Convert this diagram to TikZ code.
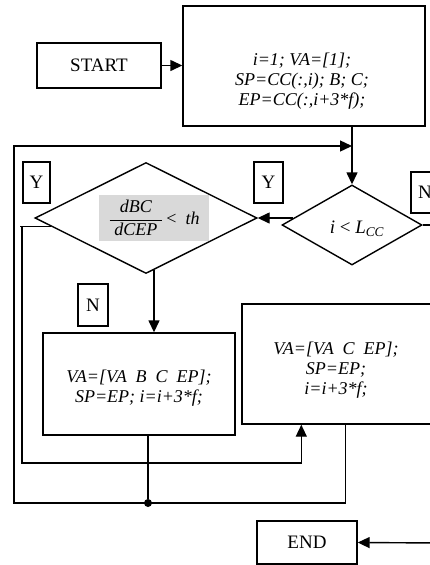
\documentclass[tikz,border=0pt]{standalone}
\usepackage{fontspec}
\setmainfont{Liberation Serif}
\usetikzlibrary{arrows.meta,calc,shapes.geometric}
\begin{document}
\begin{tikzpicture}[x=1pt,y=-1pt,
  lw/.style={line width=1.4pt},
  txt/.style={inner sep=0pt,align=center,font=\fontsize{19}{20}\selectfont},
  ittxt/.style={inner sep=0pt,align=center,font=\fontsize{18}{20}\selectfont\itshape},
  box/.style={draw,lw,rectangle,inner sep=0pt,align=center,font=\fontsize{19}{20}\selectfont},
  dia/.style={draw,lw,diamond,inner sep=0pt},
  lab/.style={draw,lw,rectangle,inner sep=0pt,minimum width=28pt,minimum height=41pt,font=\fontsize{19}{20}\selectfont},
  arr/.style={lw,-{Triangle[length=12pt,width=11pt]}},
  wire/.style={lw}
]
\useasboundingbox (0,0) rectangle (430,565);
\clip (0,0) rectangle (430,565);

% boxes
\node[box, minimum width=124pt, minimum height=45pt] (start) at (99,65.5) {START};
\node[box, minimum width=242pt, minimum height=120pt] (init) at (304,66) {};
\node[ittxt] (initt) at (302,81) {i=1; VA=[1];\\SP=CC(:,i); B; C;\\EP=CC(:,i+3*f);};

\node[dia, minimum width=140pt, minimum height=80pt] (rd) at (352,225) {};
\node[txt] (rdt) at (357,229) {\textit{i} < \textit{L}\textsubscript{\textit{CC}}};

\node[dia, minimum width=222pt, minimum height=111pt] (ld) at (146,218) {};
\node[fill=black!15, minimum width=110pt, minimum height=46pt, inner sep=0pt,
      font=\fontsize{18}{20}\selectfont] (cond) at (154,218)
  {$\displaystyle\frac{\;\;\textit{dBC}\;\;}{\;\textit{dCEP}\;}$\,<\ \ \textit{th}};

\node[box, minimum width=192pt, minimum height=102pt] (llb) at (139,384) {};
\node[ittxt] (llbt) at (139,388) {VA=[VA\ \ B\ \ C\ \ EP];\\SP=EP; i=i+3*f;};

\node[box, minimum width=196pt, minimum height=120pt] (rb) at (340,364) {};
\node[ittxt] (rbt) at (336,370) {VA=[VA\ \ C\ \ EP];\\SP=EP;\\i=i+3*f;};

\node[box, minimum width=100pt, minimum height=43pt] (end) at (307,542.5) {END};

% labels
\node[lab, minimum width=27pt] (y1) at (36.5,182.5) {Y};
\node[lab, minimum width=29pt] (y2) at (268.5,182.5) {Y};
\node[lab] (n1) at (425,192.5) {N};
\node[lab, minimum width=30pt, minimum height=42pt] (n2) at (93,305) {N};

% connectors
\draw[arr] (start.east) -- (start.east -| init.west);
\draw[arr] (init.south -| rd.north) -- (rd.north);

\coordinate (rdin) at (ld.east -| rd.west);
\draw[arr] ($(rdin)+(12,0)$) -- (ld.east);

\draw[wire] (rd.east) -- ++(30,0);

\coordinate (ldd) at ($(ld.south)+(8,-4)$);
\draw[arr] (ldd) -- (ldd |- llb.north);

\coordinate (lt) at (14,146);
\coordinate (rbout) at ($(rb.south west)+(104,0)$);
\coordinate (rbin) at ($(rb.south west)+(60,0)$);
\draw[arr] (rbout) -- (rbout |- 0,503) -- (14,503) -- (lt) -- (lt -| rd.north);

\coordinate (ldout) at ($(ld.west)!0.15!(ld.south)$);
\draw[arr] (ldout) -- (ldout -| 20,0) -- (ldout -| 22,0) -- (22,463) -- (rbin |- 0,463) -- (rbin);

\node[circle, fill, inner sep=0pt, minimum size=8pt] (jn) at (148,503) {};
\coordinate (llbo) at (llb.south -| jn);
\draw[wire] (llbo) -- (jn);

\coordinate (endin) at (440,543);
\draw[arr] (endin) -- (end.east);
\end{tikzpicture}
\end{document}
